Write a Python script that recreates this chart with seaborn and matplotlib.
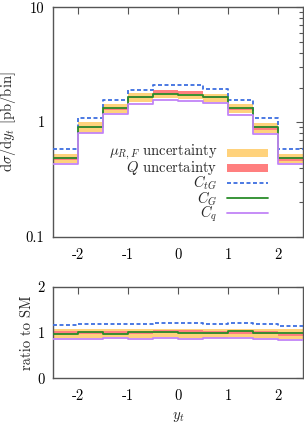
import numpy as np
import pandas as pd
import matplotlib
matplotlib.use("Agg")
import matplotlib.pyplot as plt
import seaborn as sns
from matplotlib.patches import Rectangle
from matplotlib.lines import Line2D
from matplotlib.ticker import FixedLocator, LogLocator, NullFormatter

# ---------------- data ----------------
edges = [-2.5, -2.0, -1.5, -1.0, -0.5, 0.0, 0.5, 1.0, 1.5, 2.0, 2.5]

ctg = [0.58, 1.08, 1.57, 1.92, 2.10, 2.10, 1.96, 1.57, 1.08, 0.58]
cg = [0.49, 0.91, 1.32, 1.64, 1.74, 1.72, 1.66, 1.32, 0.90, 0.49]
cq = [0.43, 0.80, 1.17, 1.45, 1.57, 1.53, 1.47, 1.15, 0.79, 0.43]
mu_lo = [0.44, 0.81, 1.19, 1.50, 1.61, 1.58, 1.50, 1.19, 0.80, 0.44]
mu_hi = [0.53, 1.00, 1.45, 1.78, 1.87, 1.85, 1.76, 1.45, 0.99, 0.53]
q_lo = [0.47, 0.88, 1.27, 1.62, 1.76, 1.74, 1.62, 1.27, 0.86, 0.46]
q_hi = [0.50, 0.93, 1.33, 1.70, 1.90, 1.87, 1.70, 1.33, 0.92, 0.50]

r_ctg = [1.16, 1.19, 1.19, 1.19, 1.21, 1.21, 1.18, 1.22, 1.19, 1.14]
r_cg = [0.98, 1.02, 0.98, 1.01, 1.01, 1.00, 1.00, 1.03, 0.99, 0.99]
r_cq = [0.86, 0.87, 0.89, 0.87, 0.89, 0.87, 0.89, 0.89, 0.86, 0.83]
r_mu_lo = [0.89, 0.89, 0.90, 0.89, 0.90, 0.89, 0.89, 0.90, 0.89, 0.87]
r_mu_hi = [1.07, 1.08, 1.07, 1.08, 1.07, 1.08, 1.07, 1.08, 1.07, 1.07]
r_q_lo = [0.98, 0.97, 0.97, 0.98, 1.00, 0.99, 0.97, 0.98, 0.97, 0.92]
r_q_hi = [1.04, 1.03, 1.03, 1.04, 1.06, 1.05, 1.03, 1.04, 1.03, 0.97]

series_names = ["C_tG", "C_G", "C_q"]
legend_labels = [r"$\mu_{R,F}$ uncertainty", r"$Q$ uncertainty",
                 r"$C_{tG}$", r"$C_G$", r"$C_q$"]
xticks = [-2, -1, 0, 1, 2]
xtick_labels = ["-2", "-1", "0", "1", "2"]
ytop_ticks = [0.1, 1, 10]
ytop_labels = ["0.1", "1", "10"]
ybot_ticks = [0, 1, 2]
ybot_labels = ["0", "1", "2"]

# ---------------- style ----------------
sns.set_theme(style="white")
plt.rcParams["font.family"] = "serif"
plt.rcParams["font.serif"] = ["cmr10"]
plt.rcParams["mathtext.fontset"] = "cm"
plt.rcParams["axes.formatter.use_mathtext"] = True
plt.rcParams["axes.unicode_minus"] = False

C_ORANGE = "#ffd27c"
C_RED = "#ff7f7f"
C_BLUE = "#3d6ee0"
C_GREEN = "#2a8c2a"
C_PURPLE = "#c184f7"
SPINE = "#555555"
FS = 10.5
LFS = 10.5

colors = {"C_tG": C_BLUE, "C_G": C_GREEN, "C_q": C_PURPLE}
styles = {"C_tG": (0, (2.2, 1.4)), "C_G": "-", "C_q": "-"}


def step_df(vals_dict):
    rows = []
    for name, vals in vals_dict.items():
        ext = list(vals) + [vals[-1]]
        for x, v in zip(edges, ext):
            rows.append({"x": x, "y": v, "series": name})
    return pd.DataFrame(rows)


def ext(v):
    return list(v) + [v[-1]]


fig = plt.figure(figsize=(3.04, 4.24), dpi=100)
ax1 = fig.add_axes([0.174, 0.441, 0.823, 0.542])
ax2 = fig.add_axes([0.174, 0.108, 0.823, 0.215])

for ax, lo1, hi1, lo2, hi2, lines in [
    (ax1, mu_lo, mu_hi, q_lo, q_hi, {"C_tG": ctg, "C_G": cg, "C_q": cq}),
    (ax2, r_mu_lo, r_mu_hi, r_q_lo, r_q_hi, {"C_tG": r_ctg, "C_G": r_cg, "C_q": r_cq}),
]:
    ax.fill_between(edges, ext(lo1), ext(hi1), step="post", color=C_ORANGE, lw=0, zorder=1)
    ax.fill_between(edges, ext(lo2), ext(hi2), step="post", color=C_RED, lw=0, zorder=1.5)
    df = step_df(lines)
    for name in series_names:
        sub = df[df["series"] == name]
        sns.lineplot(data=sub, x="x", y="y", ax=ax, color=colors[name],
                     linestyle=styles[name], linewidth=1.3, drawstyle="steps-post",
                     estimator=None, sort=False, legend=False, zorder=3)
    ax.set_xlim(-2.5, 2.5)
    ax.set_xticks(xticks)
    ax.set_xticklabels(xtick_labels, fontsize=FS)
    ax.tick_params(axis="both", which="both", direction="in", top=True, right=True,
                   colors=SPINE, labelcolor="black")
    ax.tick_params(axis="x", which="both", pad=8)
    ax.tick_params(axis="y", which="both", pad=6)
    ax.tick_params(axis="both", which="major", length=5, width=0.8)
    ax.tick_params(axis="both", which="minor", length=3, width=0.8)
    for s in ax.spines.values():
        s.set_color(SPINE)
        s.set_linewidth(1.0)
    ax.set_xlabel("")

ax1.set_yscale("log")
ax1.set_ylim(0.1, 10)
ax1.yaxis.set_major_locator(FixedLocator(ytop_ticks))
ax1.set_yticklabels(ytop_labels, fontsize=FS)
ax1.yaxis.set_minor_locator(LogLocator(base=10, subs=np.arange(2, 10)))
ax1.yaxis.set_minor_formatter(NullFormatter())
ax1.set_ylabel(r"$\mathrm{d}\sigma/\mathrm{d}y_t$ [pb/bin]", fontsize=FS)
ax1.yaxis.set_label_coords(-0.138, 0.5)

ax2.set_ylim(0, 2)
ax2.set_yticks(ybot_ticks)
ax2.set_yticklabels(ybot_labels, fontsize=FS)
ax2.set_ylabel("ratio to SM", fontsize=FS)
ax2.yaxis.set_label_coords(-0.075, 0.5)
ax2.set_xlabel(r"$y_t$", fontsize=FS, labelpad=5)

# legend (gnuplot style: text right-aligned, sample to the right)
leg_y = [0.367, 0.300, 0.236, 0.168, 0.103]
x0, x1, xt = 0.696, 0.86, 0.656
for i, (lab, yy) in enumerate(zip(legend_labels, leg_y)):
    ax1.text(xt, yy, lab, transform=ax1.transAxes, ha="right", va="center", fontsize=LFS)
    if i < 2:
        ax1.add_patch(Rectangle((x0, yy - 0.017), x1 - x0, 0.034, transform=ax1.transAxes,
                                color=[C_ORANGE, C_RED][i], lw=0))
    else:
        name = series_names[i - 2]
        ax1.add_line(Line2D([x0, x1], [yy, yy], transform=ax1.transAxes,
                            color=colors[name], linestyle=styles[name], linewidth=1.3))

fig.savefig("out.png", dpi=100)
